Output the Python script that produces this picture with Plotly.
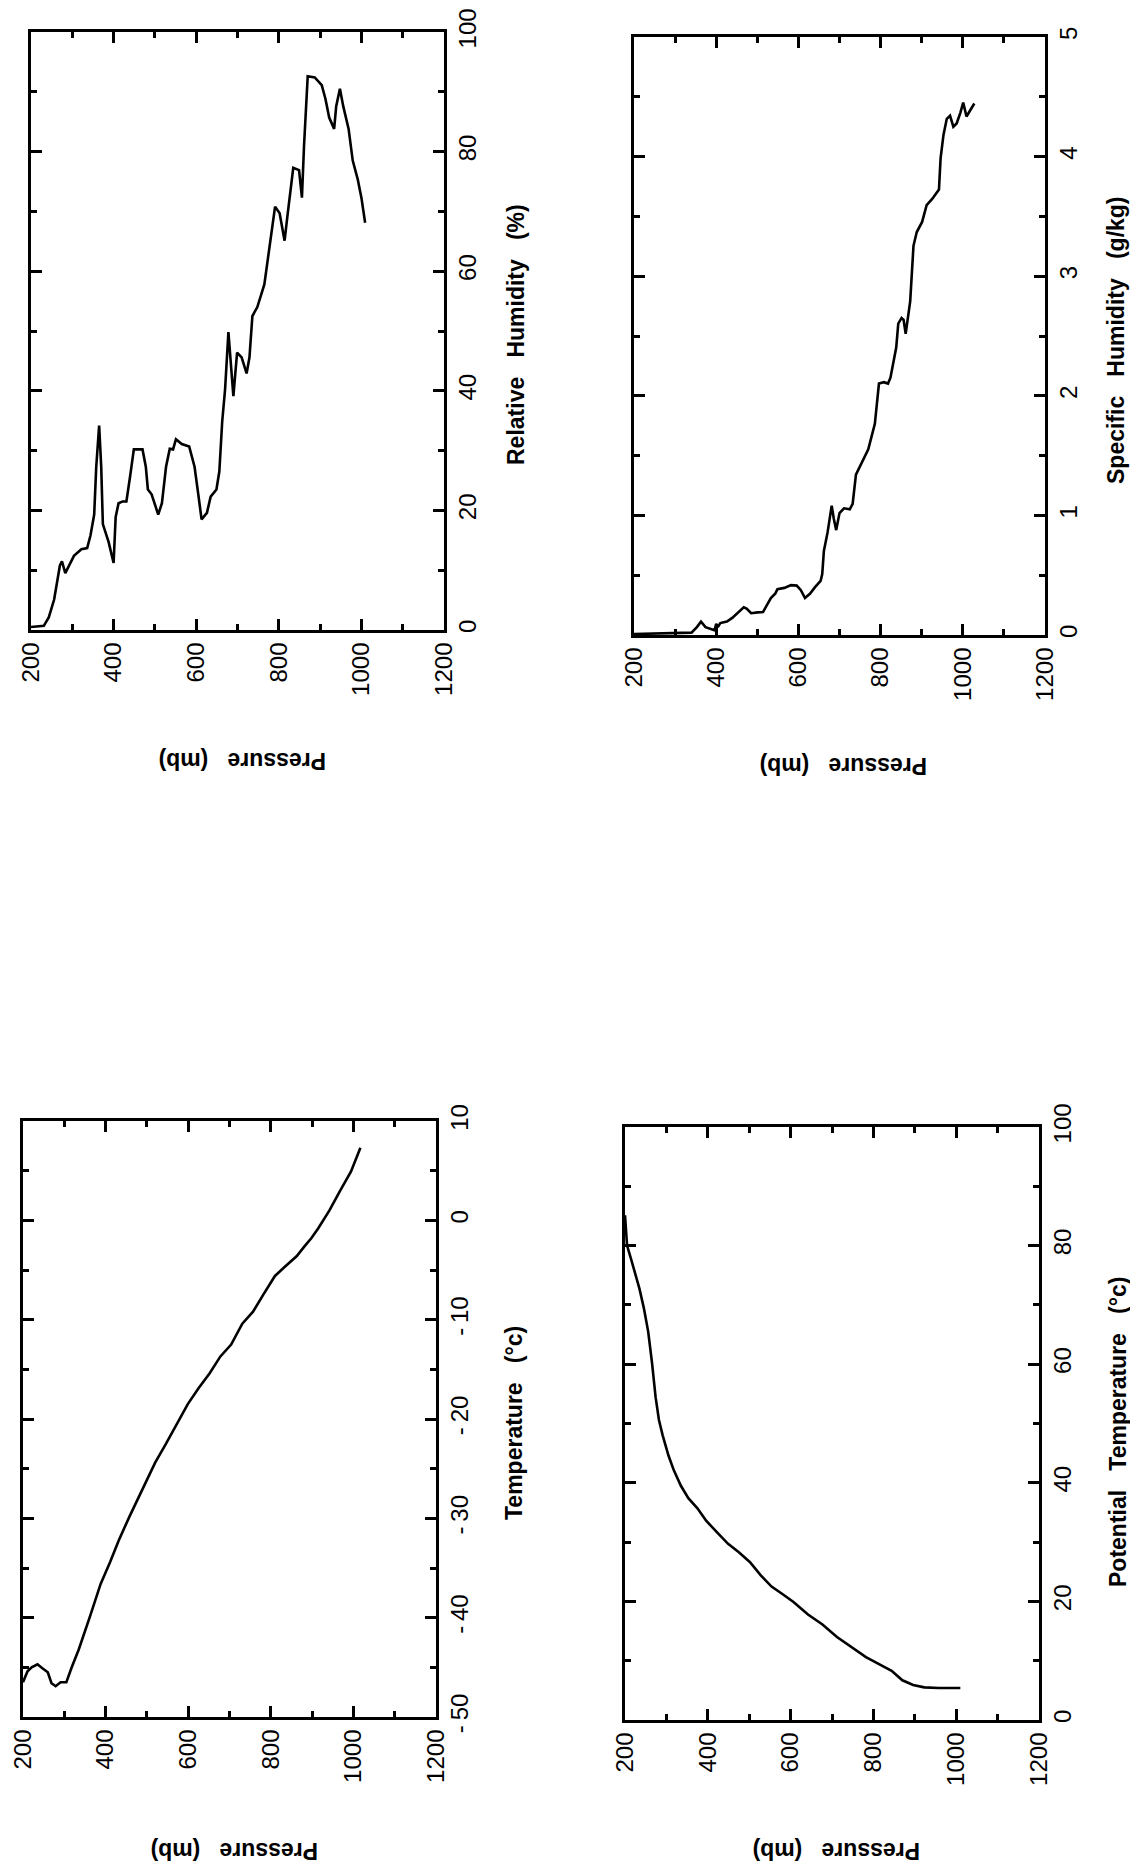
import plotly.graph_objects as go

# ---------------- data ----------------
rh_pressure = [200, 231, 243, 256, 270, 275, 283, 304, 322, 336, 344, 353, 358, 365, 370, 374, 388, 400,
               405, 412, 422, 431, 440, 449, 470, 478, 483, 492, 501, 508, 517, 527, 536, 544, 551, 565,
               583, 591, 596, 605, 613, 626, 635, 649, 656, 663, 670, 678, 685, 690, 699, 710, 722, 729,
               736, 748, 765, 777, 791, 802, 814, 821, 835, 849, 856, 861, 870, 887, 904, 913, 922, 934,
               939, 948, 956, 969, 979, 991, 1000, 1009]
rh_values = [0.5, 0.7, 2.1, 5.1, 10.8, 11.5, 9.5, 12.4, 13.5, 13.7, 15.8, 19.3, 27.3, 34.2, 27.3, 17.7, 14.7, 11.2,
             18.9, 21.2, 21.5, 21.5, 25.7, 30.2, 30.2, 27.3, 23.5, 22.7, 20.8, 19.3, 21.2, 27.3, 30.3, 30.2, 31.9, 31.1,
             30.7, 28.4, 27.3, 22.7, 18.5, 19.6, 22.3, 23.5, 26.5, 34.9, 40.3, 49.8, 43.3, 39.1, 46.4, 45.6, 42.9, 45.6,
             52.5, 54.0, 57.8, 63.9, 70.8, 69.7, 65.1, 69.3, 77.3, 76.9, 72.3, 80.8, 92.6, 92.4, 91.1, 88.8, 85.7, 83.8,
             87.6, 90.5, 87.6, 83.8, 78.5, 75.4, 72.3, 68.1]

sh_pressure = [200, 254, 297, 340, 353, 363, 374, 388, 396, 400, 404, 410, 426, 439, 453, 467, 474, 485, 501,
               514, 523, 533, 544, 549, 566, 582, 596, 606, 616, 628, 641, 654, 658, 662, 671, 681, 686, 692,
               700, 711, 725, 732, 740, 754, 770, 786, 792, 796, 808, 818, 824, 831, 838, 843, 851, 856, 861,
               867, 872, 880, 888, 901, 912, 926, 942, 946, 953, 961, 969, 977, 985, 994, 1001, 1009, 1017, 1028]
sh_values = [0.008, 0.015, 0.015, 0.02, 0.066, 0.112, 0.066, 0.046, 0.039, 0.093, 0.066, 0.10, 0.112, 0.143,
             0.185, 0.232, 0.22, 0.182, 0.189, 0.193, 0.247, 0.309, 0.348, 0.383, 0.394, 0.417, 0.413, 0.375,
             0.309, 0.344, 0.402, 0.452, 0.51, 0.703, 0.858, 1.082, 0.974, 0.877, 1.02, 1.059, 1.051, 1.097,
             1.341, 1.437, 1.553, 1.766, 1.94, 2.102, 2.114, 2.102, 2.152, 2.268, 2.403, 2.604, 2.651, 2.635,
             2.519, 2.666, 2.79, 3.254, 3.369, 3.454, 3.594, 3.648, 3.725, 3.988, 4.181, 4.316, 4.343, 4.25,
             4.277, 4.366, 4.451, 4.335, 4.382, 4.444]

t_pressure = [200, 211, 221, 235, 247, 260, 269, 279, 291, 305, 318, 335, 362, 388, 411, 432, 458, 494, 520,
              546, 573, 599, 625, 652, 678, 704, 731, 757, 783, 810, 836, 863, 880, 898, 915, 942, 968, 994, 1017]
t_values = [-46.5, -45.4, -45.0, -44.7, -45.1, -45.5, -46.6, -46.9, -46.5, -46.5, -45.0, -43.2, -39.9, -36.6,
            -34.4, -32.2, -29.8, -26.7, -24.4, -22.5, -20.4, -18.5, -16.9, -15.4, -13.7, -12.5, -10.4, -9.2,
            -7.4, -5.6, -4.6, -3.6, -2.7, -1.8, -0.8, 1.0, 3.0, 4.9, 7.3]

pt_pressure = [200, 205, 214, 225, 235, 246, 256, 265, 274, 282, 291, 305, 318, 335, 353, 375, 396, 423, 449,
               475, 502, 528, 554, 581, 607, 642, 677, 712, 747, 782, 817, 844, 870, 896, 923, 958, 1010]
pt_values = [85.1, 80.0, 77.9, 75.3, 72.7, 69.3, 65.5, 60.4, 54.4, 50.6, 48.0, 44.6, 42.1, 39.5, 37.4, 35.7,
             33.6, 31.6, 29.7, 28.3, 26.6, 24.4, 22.5, 21.2, 19.9, 17.8, 16.1, 14.0, 12.3, 10.6, 9.3, 8.3,
             6.7, 5.9, 5.5, 5.4, 5.4]

pressure_ticks = [200, 400, 600, 800, 1000, 1200]
pressure_labels = ["200", "400", "600", "800", "1000", "1200"]
rh_ticks = [0, 20, 40, 60, 80, 100]
rh_labels = ["0", "20", "40", "60", "80", "100"]
sh_ticks = [0, 1, 2, 3, 4, 5]
sh_labels = ["0", "1", "2", "3", "4", "5"]
t_ticks = [-50, -40, -30, -20, -10, 0, 10]
t_labels = ["-\u200950", "-\u200940", "-\u200930", "-\u200920", "-\u200910", "0", "10"]
pt_ticks = [0, 20, 40, 60, 80, 100]
pt_labels = ["0", "20", "40", "60", "80", "100"]

titles = ["Relative\u00a0\u00a0 Humidity\u00a0\u00a0 (%)",
          "Specific\u00a0\u00a0 Humidity\u00a0\u00a0 (g/kg)",
          "Temperature\u00a0\u00a0 (°c)",
          "Potential\u00a0\u00a0 Temperature\u00a0\u00a0 (°c)"]
pressure_title = "Pressure\u00a0\u00a0 (mb)"

# ---------------- layout geometry ----------------
W, H = 1138, 1865
panels = [
    dict(p=rh_pressure, v=rh_values, frame=(23, 24, 436, 622), yr=[0, 100], tv=rh_ticks, tt=rh_labels,
         minor=10, title=titles[0], tpos=(508, 327), ppos=(234, 753)),
    dict(p=sh_pressure, v=sh_values, frame=(626, 29, 1037, 627), yr=[0, 5], tv=sh_ticks, tt=sh_labels,
         minor=0.5, title=titles[1], tpos=(1108, 332), ppos=(836, 758)),
    dict(p=t_pressure, v=t_values, frame=(15, 1113, 428, 1709), yr=[-50, 10], tv=t_ticks, tt=t_labels,
         minor=5, title=titles[2], tpos=(506, 1415), ppos=(227, 1843)),
    dict(p=pt_pressure, v=pt_values, frame=(617, 1119, 1031, 1712), yr=[0, 100], tv=pt_ticks, tt=pt_labels,
         minor=10, title=titles[3], tpos=(1110, 1424), ppos=(829, 1843)),
]

FONT = "Liberation Sans, Arial, Helvetica, sans-serif"
tickfont = dict(family=FONT, size=24, color="black")
common = dict(showline=True, linewidth=2.8, linecolor="black", mirror="ticks",
              ticks="inside", ticklen=11, tickwidth=2.6, tickcolor="black",
              showgrid=False, zeroline=False, tickfont=tickfont, tickangle=-90,
              automargin=False, fixedrange=True)

fig = go.Figure()
layout = dict(width=W, height=H, margin=dict(l=0, r=0, t=0, b=0, autoexpand=False),
              paper_bgcolor="white", plot_bgcolor="white", showlegend=False,
              template="none")
annotations = []

for i, pn in enumerate(panels):
    k = "" if i == 0 else str(i + 1)
    x0, y0, x1, y1 = pn["frame"]
    fig.add_trace(go.Scatter(x=pn["p"], y=pn["v"], mode="lines",
                             line=dict(color="black", width=2.6),
                             xaxis="x" + k, yaxis="y" + k, hoverinfo="skip"))
    layout["xaxis" + k] = dict(common, domain=[x0 / W, x1 / W], range=[200, 1200],
                               anchor="y" + k, side="bottom",
                               tickmode="array", tickvals=pressure_ticks, ticktext=pressure_labels,
                               minor=dict(tickmode="linear", tick0=200, dtick=100, ticks="inside",
                                          ticklen=6, tickwidth=2.6, tickcolor="black"))
    layout["yaxis" + k] = dict(common, domain=[1 - y1 / H, 1 - y0 / H], range=pn["yr"],
                               anchor="x" + k, side="right",
                               tickmode="array", tickvals=pn["tv"], ticktext=pn["tt"],
                               minor=dict(tickmode="linear", tick0=pn["yr"][0], dtick=pn["minor"],
                                          ticks="inside", ticklen=6, tickwidth=2.6, tickcolor="black"))
    tx, ty = pn["tpos"]
    annotations.append(dict(text="<b>" + pn["title"] + "</b>", x=tx / W, y=1 - ty / H,
                            xref="paper", yref="paper", xanchor="center", yanchor="middle",
                            showarrow=False, textangle=-90,
                            font=dict(family=FONT, size=23, color="black")))
    px, py = pn["ppos"]
    annotations.append(dict(text="<b>" + pressure_title + "</b>", x=px / W, y=1 - py / H,
                            xref="paper", yref="paper", xanchor="center", yanchor="middle",
                            showarrow=False, textangle=180,
                            font=dict(family=FONT, size=23, color="black")))

layout["annotations"] = annotations
fig.update_layout(**layout)
fig.write_html("out.html")
